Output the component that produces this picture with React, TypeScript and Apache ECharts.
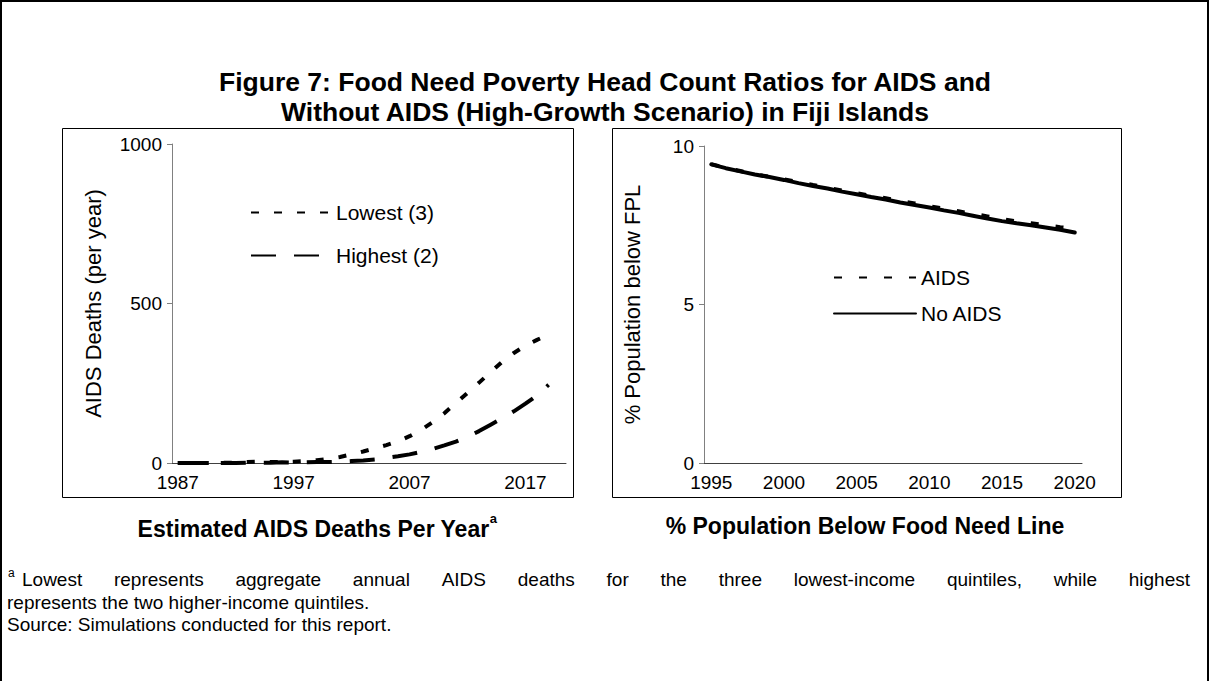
import React, { useEffect, useRef } from "react";
import * as echarts from "echarts";

const FONT = "'Liberation Sans', Arial, Helvetica, sans-serif";

const deathYears = ["1987","1988","1989","1990","1991","1992","1993","1994","1995","1996","1997","1998","1999","2000","2001","2002","2003","2004","2005","2006","2007","2008","2009","2010","2011","2012","2013","2014","2015","2016","2017","2018","2019","2020"];
const lowestDeaths = [0,0,0,0,1,1,3,4,3,3,4,6,9,13,19,27,36,46,56,68,84,104,128,156,188,220,252,285,317,345,368,386,402,null];
const highestDeaths = [0,0,0,0,0,0,1,1,1,2,1,2,3,3,4,6,8,11,16,21,27,35,44,55,67,82,100,120,140,162,186,212,245,null];

const povertyYears = ["1995","1996","1997","1998","1999","2000","2001","2002","2003","2004","2005","2006","2007","2008","2009","2010","2011","2012","2013","2014","2015","2016","2017","2018","2019","2020"];
const aidsPoverty = [9.43,9.31,9.21,9.11,9.03,8.95,8.86,8.77,8.69,8.59,8.51,8.43,8.35,8.26,8.19,8.10,8.02,7.94,7.86,7.78,7.69,7.62,7.56,7.50,7.44,7.40];
const noAidsPoverty = [9.42,9.30,9.20,9.10,9.02,8.93,8.83,8.74,8.66,8.56,8.48,8.39,8.31,8.22,8.14,8.06,7.97,7.89,7.80,7.71,7.63,7.56,7.50,7.43,7.36,7.27];

const titleLines = [
  "Figure 7: Food Need Poverty Head Count Ratios for AIDS and",
  "Without AIDS (High-Growth Scenario) in Fiji Islands",
];
const leftSubtitle = "Estimated AIDS Deaths Per Year";
const rightSubtitle = "% Population Below Food Need Line";
const footLine1 = "Lowest represents aggregate annual AIDS deaths for the three lowest-income quintiles, while highest";
const footLine2 = "represents the two higher-income quintiles.";
const footLine3 = "Source: Simulations conducted for this report.";

function measure(text: string, font: string): number {
  const c = document.createElement("canvas");
  const ctx = c.getContext("2d");
  if (!ctx) return text.length * 8;
  ctx.font = font;
  return ctx.measureText(text).width;
}

export default function App() {
  const ref = useRef<HTMLDivElement>(null);
  useEffect(() => {
    if (!ref.current) return;
    const chart = echarts.init(ref.current, null, { renderer: "svg" });

    const footSize = 19;
    const footFont = `${footSize}px ${FONT}`;
    const words = footLine1.split(" ");
    const startX = 22;
    const endX = 1190;
    const widths = words.map((w) => measure(w, footFont));
    const total = widths.reduce((a, b) => a + b, 0);
    const gap = (endX - startX - total) / (words.length - 1);
    let cx = startX;
    const footWords: any[] = words.map((w, i) => {
      const el = {
        type: "text",
        x: cx,
        y: 579,
        style: { text: w, font: footFont, fill: "#000", textVerticalAlign: "middle", textAlign: "left" },
      };
      cx += widths[i] + gap;
      return el;
    });

    const axisLabelStyle = { color: "#000", fontFamily: FONT, fontSize: 19 };
    const legendText = { color: "#000", fontFamily: FONT, fontSize: 21 };
    const hiddenSymbol = { color: "rgba(0,0,0,0)", borderWidth: 0, opacity: 0 };

    chart.setOption({
      animation: false,
      backgroundColor: "#fff",
      grid: [
        { left: 172, top: 144, width: 394, height: 319 },
        { left: 704, top: 146, width: 378, height: 317 },
      ],
      legend: [
        {
          data: ["Lowest (3)", "Highest (2)"],
          orient: "vertical",
          left: 250,
          top: 202,
          padding: 0,
          itemWidth: 80,
          itemHeight: 14,
          itemGap: 22,
          itemStyle: hiddenSymbol,
          textStyle: legendText,
        },
        {
          data: ["AIDS", "No AIDS"],
          orient: "vertical",
          left: 833,
          top: 267,
          padding: 0,
          itemWidth: 82,
          itemHeight: 14,
          itemGap: 15,
          itemStyle: hiddenSymbol,
          textStyle: legendText,
        },
      ],
      xAxis: [
        {
          type: "category",
          gridIndex: 0,
          data: deathYears,
          boundaryGap: true,
          axisLine: { lineStyle: { color: "#404040", width: 1 } },
          axisTick: { interval: 9, length: 5, lineStyle: { color: "#404040" } },
          axisLabel: { interval: 9, margin: 10, ...axisLabelStyle },
          splitLine: { show: false },
        },
        {
          type: "category",
          gridIndex: 1,
          data: povertyYears,
          boundaryGap: true,
          axisLine: { lineStyle: { color: "#404040", width: 1 } },
          axisTick: { interval: 4, length: 5, lineStyle: { color: "#404040" } },
          axisLabel: { interval: 4, margin: 10, ...axisLabelStyle },
          splitLine: { show: false },
        },
      ],
      yAxis: [
        {
          type: "value",
          gridIndex: 0,
          min: 0,
          max: 1000,
          interval: 500,
          name: "AIDS Deaths (per year)",
          nameLocation: "middle",
          nameGap: 68,
          nameTextStyle: { color: "#000", fontFamily: FONT, fontSize: 22 },
          axisLine: { show: true, lineStyle: { color: "#808080", width: 1 } },
          axisTick: { show: true, length: 5, lineStyle: { color: "#808080" } },
          axisLabel: { margin: 10, formatter: (v: number) => String(v), ...axisLabelStyle },
          splitLine: { show: false },
        },
        {
          type: "value",
          gridIndex: 1,
          min: 0,
          max: 10,
          interval: 5,
          name: "% Population below FPL",
          nameLocation: "middle",
          nameGap: 61,
          nameTextStyle: { color: "#000", fontFamily: FONT, fontSize: 22 },
          axisLine: { show: true, lineStyle: { color: "#808080", width: 1 } },
          axisTick: { show: true, length: 5, lineStyle: { color: "#808080" } },
          axisLabel: { margin: 10, formatter: (v: number) => String(v), ...axisLabelStyle },
          splitLine: { show: false },
        },
      ],
      series: [
        {
          name: "Lowest (3)",
          type: "line",
          xAxisIndex: 0,
          yAxisIndex: 0,
          data: lowestDeaths,
          symbol: "none",
          lineStyle: { color: "#000", width: 4, type: [8, 15], cap: "butt" },
          itemStyle: { color: "#000" },
        },
        {
          name: "Highest (2)",
          type: "line",
          xAxisIndex: 0,
          yAxisIndex: 0,
          data: highestDeaths,
          symbol: "none",
          lineStyle: { color: "#000", width: 4, type: [25, 18], cap: "butt" },
          itemStyle: { color: "#000" },
        },
        {
          name: "AIDS",
          type: "line",
          xAxisIndex: 1,
          yAxisIndex: 1,
          data: aidsPoverty,
          symbol: "none",
          lineStyle: { color: "#000", width: 4, type: [8, 17], cap: "butt" },
          itemStyle: { color: "#000" },
        },
        {
          name: "No AIDS",
          type: "line",
          xAxisIndex: 1,
          yAxisIndex: 1,
          data: noAidsPoverty,
          symbol: "none",
          lineStyle: { color: "#000", width: 4, type: "solid", cap: "round" },
          itemStyle: { color: "#000" },
        },
      ],
      graphic: [
        {
          type: "rect",
          shape: { x: 1, y: 1, width: 1207, height: 700 },
          style: { fill: "none", stroke: "#000", lineWidth: 2 },
          silent: true,
        },
        {
          type: "rect",
          shape: { x: 62.5, y: 128.5, width: 511, height: 369 },
          style: { fill: "none", stroke: "#000", lineWidth: 1 },
          silent: true,
        },
        {
          type: "rect",
          shape: { x: 612.5, y: 128.5, width: 509, height: 369 },
          style: { fill: "none", stroke: "#000", lineWidth: 1 },
          silent: true,
        },
        {
          type: "text",
          x: 605,
          y: 82,
          style: { text: titleLines[0], font: `bold 26.5px ${FONT}`, fill: "#000", textAlign: "center", textVerticalAlign: "middle" },
        },
        {
          type: "text",
          x: 605,
          y: 112,
          style: { text: titleLines[1], font: `bold 26.5px ${FONT}`, fill: "#000", textAlign: "center", textVerticalAlign: "middle" },
        },
        {
          type: "text",
          x: 317,
          y: 526,
          style: {
            text: `{m|${leftSubtitle}}{s|a}`,
            fill: "#000",
            align: "center",
            verticalAlign: "middle",
            rich: {
              m: { fontFamily: FONT, fontWeight: "bold", fontSize: 23, lineHeight: 28, verticalAlign: "bottom" },
              s: { fontFamily: FONT, fontWeight: "bold", fontSize: 13, lineHeight: 28, verticalAlign: "top" },
            },
          },
        },
        {
          type: "text",
          x: 865,
          y: 526,
          style: { text: rightSubtitle, font: `bold 23px ${FONT}`, fill: "#000", textAlign: "center", textVerticalAlign: "middle" },
        },
        {
          type: "text",
          x: 8,
          y: 573,
          style: { text: "a", font: `12px ${FONT}`, fill: "#000", textAlign: "left", textVerticalAlign: "middle" },
        },
        ...footWords,
        {
          type: "text",
          x: 7,
          y: 602,
          style: { text: footLine2, font: footFont, fill: "#000", textAlign: "left", textVerticalAlign: "middle" },
        },
        {
          type: "text",
          x: 7,
          y: 624,
          style: { text: footLine3, font: footFont, fill: "#000", textAlign: "left", textVerticalAlign: "middle" },
        },
      ],
    });
    return () => chart.dispose();
  }, []);
  return (
    <div
      ref={ref}
      style={{ position: "fixed", left: 0, top: 0, width: 1210, height: 681, background: "#fff" }}
    />
  );
}
